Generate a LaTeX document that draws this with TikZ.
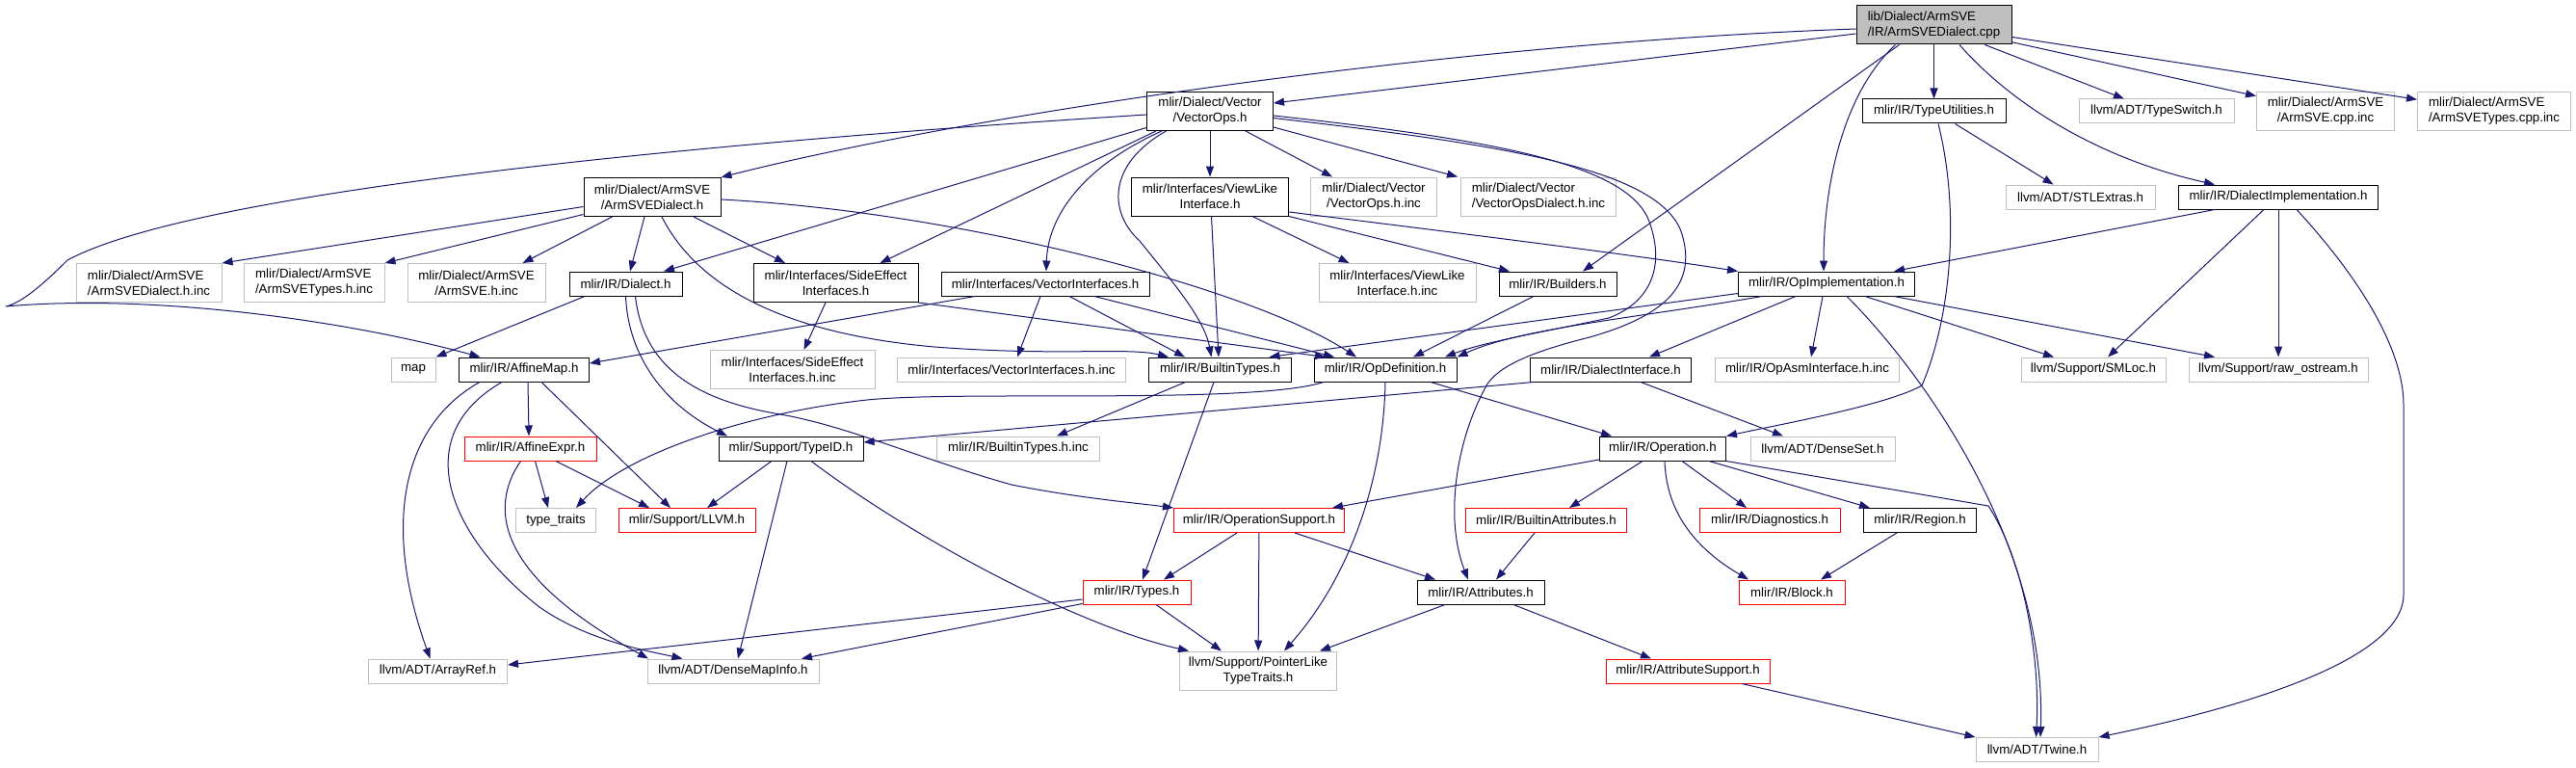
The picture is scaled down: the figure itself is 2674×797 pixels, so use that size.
\documentclass[tikz,border=0pt]{standalone}
\usepackage{fontspec}
\setmainfont{Liberation Sans}
\usetikzlibrary{arrows.meta}
\definecolor{edgeblue}{HTML}{191970}
\definecolor{grey75}{HTML}{BFBFBF}
\tikzset{
 nd/.style={rectangle, inner sep=1pt, font=\fontsize{13.3}{16}\selectfont, line width=1pt, fill=white},
 blk/.style={nd, draw=black},
 gry/.style={nd, draw=grey75},
 rdn/.style={nd, draw=red},
 topn/.style={nd, draw=black, fill=grey75},
 sz/.style 2 args={minimum width=#1pt, minimum height=#2pt},
 edg/.style={draw=edgeblue, line width=1pt, -{Triangle[length=11pt,width=8pt]}},
}
\begin{document}
\begin{tikzpicture}[x=1pt,y=-1pt]
\fill[white] (0,0) rectangle (2674,797);
\useasboundingbox (0,0) rectangle (2674,797);
% nodes
\node[topn, sz={161}{40}, align=left] (cpp) at (2007.5,26) {lib/Dialect/ArmSVE\\/IR/ArmSVEDialect.cpp};
\node[blk, sz={149}{25}] (tu) at (2007.5,115.5) {mlir/IR/TypeUtilities.h};
\node[gry, sz={161}{25}] (tsw) at (2238.5,115.5) {llvm/ADT/TypeSwitch.h};
\node[gry, sz={143}{40}, align=center] (acppinc) at (2414,115.5) {mlir/Dialect/ArmSVE\\/ArmSVE.cpp.inc};
\node[gry, sz={159}{40}, align=left] (atcppinc) at (2589,115.5) {mlir/Dialect/ArmSVE\\/ArmSVETypes.cpp.inc};
\node[blk, sz={131}{40}, align=center] (vops) at (1256,115.5) {mlir/Dialect/Vector\\/VectorOps.h};
\node[blk, sz={142}{40}, align=center] (asved) at (677,204.5) {mlir/Dialect/ArmSVE\\/ArmSVEDialect.h};
\node[blk, sz={163}{40}, align=center] (viewlike) at (1256,204) {mlir/Interfaces/ViewLike\\Interface.h};
\node[gry, sz={131}{40}, align=center] (vopsinc) at (1426,204) {mlir/Dialect/Vector\\/VectorOps.h.inc};
\node[gry, sz={161}{40}, align=left] (vopsdinc) at (1597,204) {mlir/Dialect/Vector\\/VectorOpsDialect.h.inc};
\node[gry, sz={155}{25}] (stl) at (2159.5,204.5) {llvm/ADT/STLExtras.h};
\node[blk, sz={207}{25}] (dimpl) at (2365,204.5) {mlir/IR/DialectImplementation.h};
\node[gry, sz={151}{40}, align=left] (asvedinc) at (154.5,293.5) {mlir/Dialect/ArmSVE\\/ArmSVEDialect.h.inc};
\node[gry, sz={146}{40}, align=left] (asvetinc) at (326,293.5) {mlir/Dialect/ArmSVE\\/ArmSVETypes.h.inc};
\node[gry, sz={143}{40}, align=center] (asveinc) at (494.5,293.5) {mlir/Dialect/ArmSVE\\/ArmSVE.h.inc};
\node[blk, sz={117}{25}] (dialect) at (649.5,294.5) {mlir/IR/Dialect.h};
\node[blk, sz={171}{40}, align=center] (sei) at (867.5,293.5) {mlir/Interfaces/SideEffect\\Interfaces.h};
\node[blk, sz={216}{25}] (vi) at (1085,294.5) {mlir/Interfaces/VectorInterfaces.h};
\node[gry, sz={163}{40}, align=center] (vlinc) at (1450.5,293.5) {mlir/Interfaces/ViewLike\\Interface.h.inc};
\node[blk, sz={122}{25}] (builders) at (1617,294.5) {mlir/IR/Builders.h};
\node[blk, sz={183}{25}] (opimpl) at (1896,294.5) {mlir/IR/OpImplementation.h};
\node[gry, sz={46}{25}] (map) at (429,383.5) {map};
\node[blk, sz={135}{25}] (affmap) at (544,383.5) {mlir/IR/AffineMap.h};
\node[gry, sz={171}{40}, align=center] (seiinc) at (822.5,383.5) {mlir/Interfaces/SideEffect\\Interfaces.h.inc};
\node[gry, sz={237}{25}] (viinc) at (1050,383.5) {mlir/Interfaces/VectorInterfaces.h.inc};
\node[blk, sz={148}{25}] (btypes) at (1266.5,383.5) {mlir/IR/BuiltinTypes.h};
\node[blk, sz={148}{25}] (opdef) at (1438,383.5) {mlir/IR/OpDefinition.h};
\node[blk, sz={167}{25}] (dint) at (1672,383.5) {mlir/IR/DialectInterface.h};
\node[gry, sz={191}{25}] (opasm) at (1876,383.5) {mlir/IR/OpAsmInterface.h.inc};
\node[gry, sz={150}{25}] (smloc) at (2173,383.5) {llvm/Support/SMLoc.h};
\node[gry, sz={186}{25}] (rawos) at (2365,383.5) {llvm/Support/raw\_ostream.h};
\node[rdn, sz={137}{25}] (affexpr) at (550.5,465.5) {mlir/IR/AffineExpr.h};
\node[blk, sz={150}{25}] (typeid) at (821,465.5) {mlir/Support/TypeID.h};
\node[gry, sz={169}{25}] (btinc) at (1057,465.5) {mlir/IR/BuiltinTypes.h.inc};
\node[blk, sz={131}{25}] (operation) at (1726,465.5) {mlir/IR/Operation.h};
\node[gry, sz={150}{25}] (denseset) at (1892,465.5) {llvm/ADT/DenseSet.h};
\node[gry, sz={83}{25}] (typetraits) at (577,540) {type\_traits};
\node[rdn, sz={142}{25}] (llvmh) at (713,540) {mlir/Support/LLVM.h};
\node[rdn, sz={177}{25}] (opsupport) at (1307,540) {mlir/IR/OperationSupport.h};
\node[rdn, sz={167}{25}] (battr) at (1605,540) {mlir/IR/BuiltinAttributes.h};
\node[rdn, sz={146}{25}] (diag) at (1837,540) {mlir/IR/Diagnostics.h};
\node[blk, sz={117}{25}] (region) at (1993,540) {mlir/IR/Region.h};
\node[rdn, sz={112}{25}] (types) at (1180,614.5) {mlir/IR/Types.h};
\node[blk, sz={132}{25}] (attrs) at (1537,614.5) {mlir/IR/Attributes.h};
\node[rdn, sz={110}{25}] (block) at (1860,614.5) {mlir/IR/Block.h};
\node[gry, sz={144}{25}] (arrayref) at (454.5,696.5) {llvm/ADT/ArrayRef.h};
\node[gry, sz={178}{25}] (dmi) at (761,696.5) {llvm/ADT/DenseMapInfo.h};
\node[gry, sz={163}{40}, align=center] (plt) at (1306,696) {llvm/Support/PointerLike\\TypeTraits.h};
\node[rdn, sz={170}{25}] (attrsup) at (1752,696.5) {mlir/IR/AttributeSupport.h};
\node[gry, sz={127}{25}] (twine) at (2114.5,778) {llvm/ADT/Twine.h};
% cpp edges
\draw[edg] ([yshift=-9pt]cpp.west) -- ([yshift=8.5pt]vops.east);
\draw[edg] ([yshift=-4pt]cpp.west) .. controls (1500,45) and (1000,120) .. (asved.north east);
\draw[edg] (cpp) -- (tu);
\draw[edg] (cpp) -- (tsw);
\draw[edg] (cpp) -- (acppinc);
\draw[edg] (cpp) -- (atcppinc);
\draw[edg] ([xshift=26.5pt]cpp.south) .. controls (2090,110) and (2180,165) .. ([xshift=-66pt]dimpl.north);
\draw[edg] ([xshift=-36pt]cpp.south) -- ([xshift=26pt]builders.north);
\draw[edg] ([xshift=-40pt]cpp.south) .. controls (1910,100) and (1893,200) .. ([xshift=-3pt]opimpl.north);
% vops edges
\draw[edg] ([yshift=-3.5pt]vops.west) .. controls (700,150) and (200,200) .. (70,270) .. controls (40,300) and (20,315) .. (6,318) .. controls (150,305) and (350,330) .. ([xshift=-45.5pt]affmap.north);
\draw[edg] ([yshift=-17pt]vops.west) -- ([xshift=39.5pt]dialect.north);
\draw[edg] ([xshift=-56pt]vops.south) -- ([xshift=46pt]sei.north);
\draw[edg] ([xshift=-50pt]vops.south) .. controls (1130,170) and (1088,220) .. ([xshift=1pt]vi.north);
\draw[edg] ([xshift=-45.5pt]vops.south) .. controls (1150,170) and (1150,220) .. (1183,250) .. controls (1215,290) and (1250,330) .. ([xshift=-9pt]btypes.north);
\draw[edg] (vops) -- (viewlike);
\draw[edg] ([xshift=37pt]vops.south) -- ([xshift=-43pt]vopsinc.north);
\draw[edg] ([yshift=-16.5pt]vops.east) -- ([xshift=-84pt]vopsdinc.north);
\draw[edg] ([yshift=-4.5pt]vops.east) .. controls (1550,145) and (1690,170) .. (1712,230) .. controls (1730,280) and (1710,315) .. (1670,330) .. controls (1600,345) and (1540,355) .. ([xshift=62pt]opdef.north);
\draw[edg] ([yshift=-7pt]vops.east) .. controls (1560,150) and (1720,175) .. (1745,240) .. controls (1765,300) and (1720,330) .. (1650,350) .. controls (1590,365) and (1555,380) .. (1543,400) .. controls (1510,460) and (1500,540) .. ([xshift=-13pt]attrs.north);
% asved edges
\draw[edg] ([yshift=-10pt]asved.west) -- (asvedinc.north east);
\draw[edg] ([yshift=-18pt]asved.west) -- (asvetinc.north east);
\draw[edg] ([xshift=-41.5pt]asved.south) -- ([xshift=48pt]asveinc.north);
\draw[edg] ([xshift=-8pt]asved.south) -- ([xshift=4.5pt]dialect.north);
\draw[edg] ([xshift=43pt]asved.south) -- ([xshift=-52.5pt]sei.north);
\draw[edg] ([xshift=10pt]asved.south) .. controls (720,290) and (800,345) .. (970,360) .. controls (1100,370) and (1170,360) .. ([xshift=-53.5pt]btypes.north);
\draw[edg] ([yshift=-2.5pt]asved.east) .. controls (1000,220) and (1300,300) .. ([xshift=-30pt]opdef.north);
% dialect edges
\draw[edg] ([xshift=-42.5pt]dialect.south) -- (map.north east);
\draw[edg] (dialect.south) .. controls (652,370) and (690,420) .. ([xshift=-66pt]typeid.north);
\draw[edg] ([xshift=10pt]dialect.south) .. controls (668,380) and (720,415) .. (810,430) .. controls (880,442) and (960,478) .. (1050,503) .. controls (1120,517) and (1180,522) .. (opsupport.north west);
% affmap edges
\draw[edg] ([xshift=4pt]affmap.south) -- ([xshift=-1.5pt]affexpr.north);
\draw[edg] ([xshift=18pt]affmap.south) -- ([xshift=-17pt]llvmh.north);
\draw[edg] ([xshift=-46pt]affmap.south) .. controls (420,440) and (395,540) .. ([xshift=-8pt]arrayref.north);
\draw[edg] ([xshift=-23pt]affmap.south) .. controls (420,455) and (470,560) .. (560,630) .. controls (610,665) and (670,675) .. ([xshift=-52.5pt]dmi.north);
% affexpr edges
\draw[edg] ([xshift=5pt]affexpr.south) -- ([xshift=-8pt]typetraits.north);
\draw[edg] ([xshift=26.5pt]affexpr.south) -- ([xshift=-39pt]llvmh.north);
\draw[edg] ([xshift=-10pt]affexpr.south) .. controls (505,530) and (520,600) .. ([xshift=-88pt]dmi.north);
% typeid edges
\draw[edg] ([xshift=-20pt]typeid.south) -- ([xshift=21pt]llvmh.north);
\draw[edg] ([xshift=-4pt]typeid.south) -- ([xshift=5pt]dmi.north);
\draw[edg] ([xshift=21pt]typeid.south) .. controls (950,560) and (1120,650) .. ([xshift=-72pt]plt.north);
% btypes edges
\draw[edg] ([xshift=-36pt]btypes.south) -- ([xshift=40pt]btinc.north);
\draw[edg] ([xshift=-6.5pt]btypes.south) -- ([xshift=6pt]types.north);
% opsupport edges
\draw[edg] ([xshift=-23pt]opsupport.south) -- ([xshift=28pt]types.north);
\draw[edg] (opsupport) -- (plt);
\draw[edg] ([xshift=37pt]opsupport.south) -- ([xshift=-47pt]attrs.north);
% types edges
\draw[edg] ([yshift=-7.5pt]types.west) -- ([yshift=6.5pt]arrayref.east);
\draw[edg] ([yshift=-12pt]types.west) -- ([xshift=71pt]dmi.north);
\draw[edg] ([xshift=20pt]types.south) -- ([xshift=-38pt]plt.north);
% opdef edges
\draw[edg] ([xshift=-64pt]opdef.south) .. controls (1300,420) and (1000,405) .. (900,415) .. controls (780,428) and (650,470) .. ([xshift=21pt]typetraits.north);
\draw[edg] (opdef.south) .. controls (1436,500) and (1400,600) .. ([xshift=27pt]plt.north);
\draw[edg] ([xshift=47pt]opdef.south) -- ([xshift=-53pt]operation.north);
% dint edges
\draw[edg] ([xshift=-80pt]dint.south) -- ([yshift=6.5pt]typeid.east);
\draw[edg] ([xshift=31pt]dint.south) -- ([xshift=-41pt]denseset.north);
% opimpl edges
\draw[edg] ([yshift=-10pt]opimpl.west) -- ([xshift=51pt]btypes.north);
\draw[edg] ([xshift=-67pt]opimpl.south) .. controls (1700,330) and (1580,340) .. (opdef.north east);
\draw[edg] ([xshift=-32pt]opimpl.south) -- ([xshift=40pt]dint.north);
\draw[edg] ([xshift=-4pt]opimpl.south) -- ([xshift=4pt]opasm.north);
\draw[edg] ([xshift=40pt]opimpl.south) -- ([xshift=-41pt]smloc.north);
\draw[edg] ([xshift=70pt]opimpl.south) -- ([xshift=-66pt]rawos.north);
\draw[edg] ([xshift=21pt]opimpl.south) .. controls (1990,380) and (2125,560) .. ([xshift=3.5pt]twine.north);
% operation edges
\draw[edg] ([yshift=-11.5pt]operation.west) -- ([xshift=76pt]opsupport.north);
\draw[edg] ([xshift=-21pt]operation.south) -- ([xshift=24pt]battr.north);
\draw[edg] ([xshift=20pt]operation.south) -- ([xshift=-24pt]diag.north);
\draw[edg] ([xshift=48pt]operation.south) -- ([xshift=-52pt]region.north);
\draw[edg] ([xshift=2pt]operation.south) .. controls (1730,540) and (1770,575) .. ([xshift=-45pt]block.north);
\draw[edg] (operation.south east) -- (2064,525) .. controls (2100,580) and (2118,680) .. ([xshift=-1pt]twine.north);
% other edges
\draw[edg] ([xshift=-12pt]battr.south) -- ([xshift=16pt]attrs.north);
\draw[edg] ([xshift=-24pt]region.south) -- ([xshift=30pt]block.north);
\draw[edg] ([xshift=-37pt]attrs.south) -- ([xshift=64pt]plt.north);
\draw[edg] ([xshift=34pt]attrs.south) -- ([xshift=-38pt]attrsup.north);
\draw[edg] ([xshift=56pt]attrsup.south) -- (twine.north west);
% tu edges
\draw[edg] ([xshift=22pt]tu.south) -- ([xshift=-28pt]stl.north);
\draw[edg] ([xshift=4.5pt]tu.south) .. controls (2035,220) and (2025,330) .. (1995,400) .. controls (1960,420) and (1850,440) .. (operation.north east);
% dimpl edges
\draw[edg] ([xshift=-66pt]dimpl.south) -- ([xshift=70pt]opimpl.north);
\draw[edg] ([xshift=-15pt]dimpl.south) -- ([xshift=15pt]smloc.north);
\draw[edg] (dimpl) -- (rawos);
\draw[edg] ([xshift=19pt]dimpl.south) .. controls (2460,300) and (2495,370) .. (2495,420) -- (2495,617) .. controls (2495,690) and (2300,740) .. (twine.north east);
% vi edges
\draw[edg] ([xshift=-73pt]vi.south) -- ([yshift=6.5pt]affmap.east);
\draw[edg] ([xshift=-5pt]vi.south) -- ([xshift=6pt]viinc.north);
\draw[edg] ([xshift=25pt]vi.south) -- ([xshift=-36.5pt]btypes.north);
\draw[edg] ([xshift=51pt]vi.south) -- ([xshift=-53pt]opdef.north);
% sei edges
\draw[edg] ([xshift=-10.5pt]sei.south) -- ([xshift=12pt]seiinc.north);
\draw[edg] (sei.south east) -- ([xshift=-62pt]opdef.north);
% viewlike edges
\draw[edg] ([xshift=44pt]viewlike.south) -- ([xshift=-50pt]vlinc.north);
\draw[edg] (viewlike.south east) -- ([xshift=-50pt]builders.north);
\draw[edg] ([yshift=-16pt]viewlike.east) .. controls (1500,240) and (1700,265) .. (opimpl.north west);
\draw[edg] ([xshift=1.5pt]viewlike.south) -- ([xshift=-1.5pt]btypes.north);
% builders
\draw[edg] ([xshift=-25pt]builders.south) -- ([xshift=29pt]opdef.north);
\end{tikzpicture}
\end{document}
